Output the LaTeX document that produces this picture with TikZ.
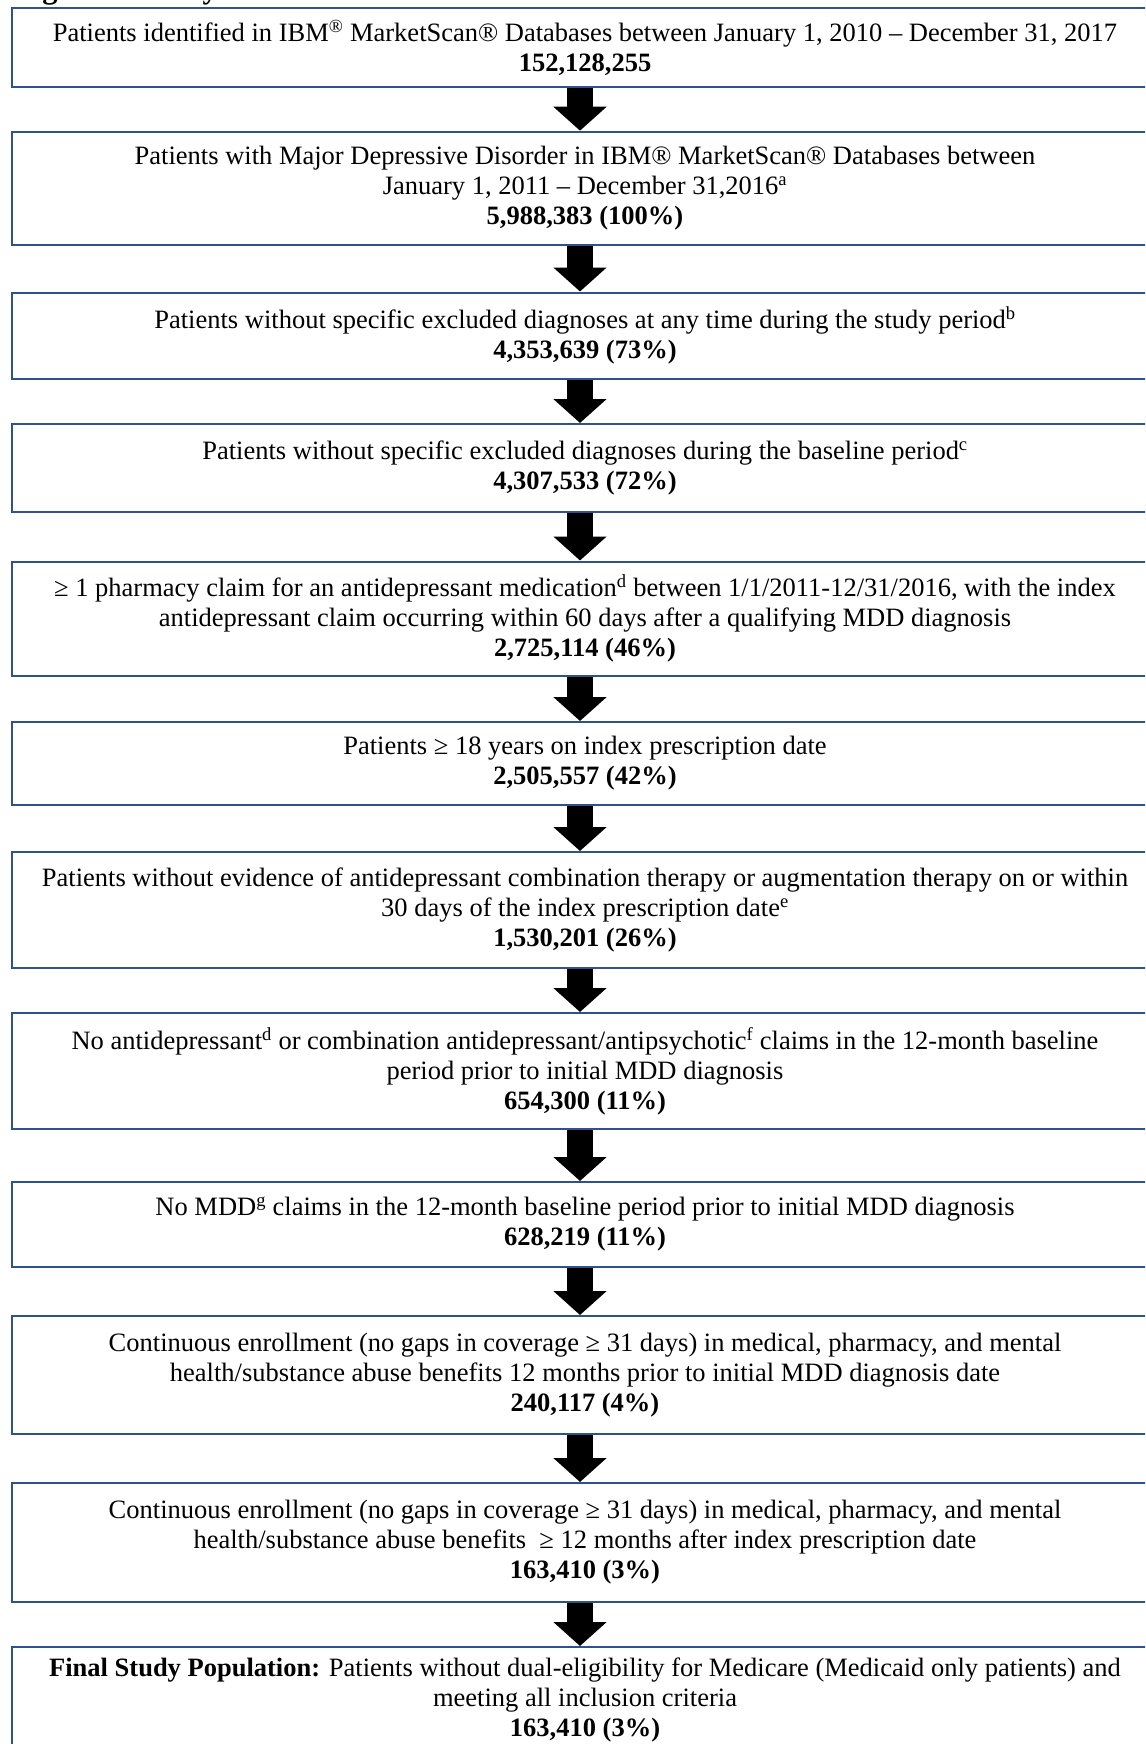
\documentclass[tikz,border=0pt]{standalone}
\usepackage{fontspec}
\setmainfont{Liberation Serif}
\usetikzlibrary{arrows.meta}
\definecolor{boxblue}{RGB}{47,82,143}
\begin{document}
\begin{tikzpicture}[x=1pt,y=-1pt,
  flowbox/.style={draw=boxblue, line width=2pt, minimum width=1146pt, inner sep=0pt,
    align=center, font=\fontsize{26.5}{30}\selectfont},
  flowarrow/.style={line width=26pt, draw=black, -{Triangle[width=52pt,length=24pt]}},
  titletext/.style={anchor=base west, inner sep=0pt, font=\bfseries\fontsize{30.5}{34}\selectfont}]
\useasboundingbox (0,0) rectangle (1145,1744);
\clip (0,0) rectangle (1145,1744);
\node[titletext] (title) at (15,-1.5) {Figure 1. Study};
\coordinate (ax) at (580,0);
\node[flowbox, minimum height=78.5pt] (b1) at (585,47.75)
  {Patients identified in IBM\textsuperscript{®} MarketScan® Databases between January 1, 2010 – December 31, 2017\\
   \textbf{152,128,255}};
\node[flowbox, minimum height=113.3pt] (b2) at (585,188.35)
  {Patients with Major Depressive Disorder in IBM® MarketScan® Databases between\\
   January 1, 2011 – December 31,2016\textsuperscript{a}\\
   \textbf{5,988,383 (100\%)}};
\node[flowbox, minimum height=86pt] (b3) at (585,335.5)
  {Patients without specific excluded diagnoses at any time during the study period\textsuperscript{b}\\
   \textbf{4,353,639 (73\%)}};
\node[flowbox, minimum height=87.5pt] (b4) at (585,467.75)
  {Patients without specific excluded diagnoses during the baseline period\textsuperscript{c}\\
   \textbf{4,307,533 (72\%)}};
\node[flowbox, minimum height=114.5pt] (b5) at (585,618.75)
  {≥ 1 pharmacy claim for an antidepressant medication\textsuperscript{d} between 1/1/2011-12/31/2016, with the index\\
   antidepressant claim occurring within 60 days after a qualifying MDD diagnosis\\
   \textbf{2,725,114 (46\%)}};
\node[flowbox, minimum height=83pt] (b6) at (585,763.5)
  {Patients ≥ 18 years on index prescription date\\
   \textbf{2,505,557 (42\%)}};
\node[flowbox, minimum height=116pt] (b7) at (585,910)
  {Patients without evidence of antidepressant combination therapy or augmentation therapy on or within\\
   30 days of the index prescription date\textsuperscript{e}\\
   \textbf{1,530,201 (26\%)}};
\node[flowbox, minimum height=116pt] (b8) at (585,1071)
  {No antidepressant\textsuperscript{d} or combination antidepressant/antipsychotic\textsuperscript{f} claims in the 12-month baseline\\
   period prior to initial MDD diagnosis\\
   \textbf{654,300 (11\%)}};
\node[flowbox, minimum height=85pt] (b9) at (585,1224.5)
  {No MDD\textsuperscript{g} claims in the 12-month baseline period prior to initial MDD diagnosis\\
   \textbf{628,219 (11\%)}};
\node[flowbox, minimum height=118pt] (b10) at (585,1375)
  {Continuous enrollment (no gaps in coverage ≥ 31 days) in medical, pharmacy, and mental\\
   health/substance abuse benefits 12 months prior to initial MDD diagnosis date\\
   \textbf{240,117 (4\%)}};
\node[flowbox, minimum height=119pt] (b11) at (585,1542.5)
  {Continuous enrollment (no gaps in coverage ≥ 31 days) in medical, pharmacy, and mental\\
   health/substance abuse benefits \ ≥ 12 months after index prescription date\\
   \textbf{163,410 (3\%)}};
\node[flowbox, minimum height=106pt] (b12) at (585,1700)
  {\textbf{Final Study Population:} Patients without dual-eligibility for Medicare (Medicaid only patients) and\\
   meeting all inclusion criteria\\
   \textbf{163,410 (3\%)}};
\foreach \a/\b in {b1/b2,b2/b3,b3/b4,b4/b5,b5/b6,b6/b7,b7/b8,b8/b9,b9/b10,b10/b11,b11/b12}
  \draw[flowarrow] (\a.south -| ax) -- (\b.north -| ax);
\end{tikzpicture}
\end{document}
